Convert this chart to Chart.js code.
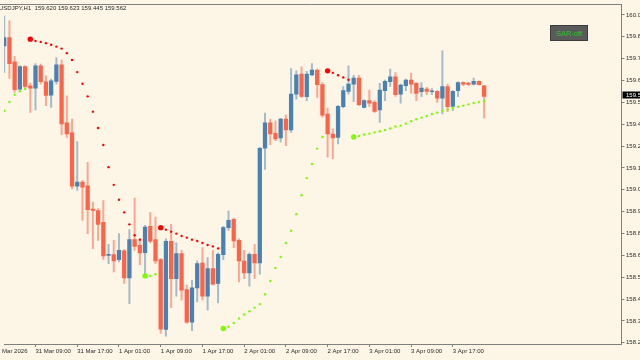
<!DOCTYPE html>
<html>
<head>
<meta charset="utf-8">
<script src="https://cdn.jsdelivr.net/npm/chart.js@4.4.1/dist/chart.umd.min.js"></script>
<style>
html, body { margin: 0; padding: 0; background: #fdf5e6; }
</style>
</head>
<body>
<canvas id="chart" width="640" height="360"></canvas>
<script>
// USDJPY H1, one candle per hour from 31 Mar 03:00
let symbolName = 'USDJPY,H1'

let opens = [159.840,159.886,159.752,159.603,159.727,159.621,159.608,159.731,159.643,159.570,
  159.645,159.736,159.417,159.362,159.070,159.092,159.072,158.944,158.936,158.871,
  158.690,158.694,158.666,158.714,158.566,158.776,158.745,158.705,158.849,158.776,
  158.666,158.283,158.767,158.562,158.699,158.502,158.323,158.511,158.648,158.465,
  158.617,158.535,158.694,158.842,158.887,158.772,158.659,158.593,158.696,158.648,
  159.278,159.417,159.360,159.334,159.438,159.378,159.575,159.685,159.561,159.681,
  159.707,159.627,159.466,159.356,159.338,159.506,159.590,159.630,159.663,159.502,
  159.539,159.530,159.488,159.594,159.643,159.670,159.575,159.621,159.652,159.634,
  159.588,159.603,159.588,159.590,159.553,159.616,159.508,159.594,159.639,159.636,
  159.630,159.645,159.620]

let highs = [160.004,159.977,159.782,159.731,159.731,159.636,159.743,159.740,159.676,159.658,
  159.776,159.762,159.566,159.438,159.314,159.101,159.201,158.982,158.946,158.991,
  158.750,158.772,158.809,158.721,158.831,159.004,158.781,158.854,158.924,158.900,
  158.672,158.781,158.860,158.759,158.717,158.526,158.553,158.659,158.732,158.677,
  158.717,158.703,158.849,158.933,158.894,158.781,158.717,158.703,158.750,159.283,
  159.471,159.438,159.429,159.442,159.462,159.716,159.703,159.725,159.700,159.743,
  159.712,159.639,159.499,159.384,159.512,159.616,159.731,159.679,159.679,159.544,
  159.597,159.539,159.634,159.652,159.712,159.694,159.630,159.658,159.690,159.639,
  159.639,159.612,159.606,159.594,159.813,159.630,159.594,159.643,159.643,159.641,
  159.663,159.648,159.623]

let lows = [159.694,159.661,159.585,159.590,159.603,159.475,159.488,159.630,159.512,159.502,
  159.630,159.353,159.338,159.055,159.046,158.882,158.809,158.727,158.772,158.668,
  158.644,158.599,158.654,158.535,158.425,158.717,158.639,158.581,158.758,158.644,
  158.261,158.246,158.403,158.465,158.444,158.316,158.276,158.434,158.444,158.389,
  158.526,158.429,158.666,158.827,158.732,158.544,158.562,158.520,158.562,158.586,
  159.161,159.298,159.320,159.311,159.292,159.365,159.548,159.557,159.539,159.676,
  159.557,159.448,159.229,159.219,159.302,159.499,159.575,159.533,159.512,159.499,
  159.506,159.475,159.420,159.539,159.617,159.563,159.526,159.594,159.581,159.539,
  159.561,159.572,159.572,159.530,159.466,159.479,159.484,159.561,159.621,159.621,
  159.625,159.625,159.445]

let closes = [159.886,159.743,159.599,159.727,159.617,159.608,159.731,159.643,159.568,159.648,
  159.736,159.411,159.356,159.070,159.092,159.064,158.940,158.936,158.860,158.686,
  158.696,158.659,158.717,158.566,158.776,158.739,158.703,158.845,158.767,158.659,
  158.285,158.767,158.562,158.699,158.498,158.323,158.511,158.644,158.465,158.617,
  158.531,158.696,158.842,158.882,158.769,158.659,158.593,158.696,158.648,159.278,
  159.417,159.356,159.329,159.438,159.378,159.575,159.681,159.563,159.685,159.707,
  159.627,159.460,159.356,159.334,159.508,159.594,159.630,159.663,159.517,159.539,
  159.526,159.480,159.597,159.645,159.670,159.572,159.625,159.652,159.630,159.579,
  159.608,159.590,159.592,159.553,159.616,159.506,159.590,159.639,159.630,159.628,
  159.645,159.627,159.562]

// parabolic SAR, one value per candle
let sar = [159.484,159.532,159.572,159.590,159.603,159.877,159.867,159.862,159.855,159.846,
  159.836,159.825,159.800,159.763,159.696,159.632,159.563,159.479,159.389,159.296,
  159.174,159.077,158.995,158.926,158.860,158.800,158.776,158.577,158.577,158.586,
  158.842,158.831,158.820,158.809,158.796,158.787,158.776,158.769,158.758,158.747,
  158.739,158.728,158.288,158.298,158.319,158.343,158.365,158.383,158.403,158.422,
  158.476,158.549,158.621,158.681,158.758,158.825,158.916,159.020,159.114,159.192,
  159.276,159.340,159.703,159.692,159.679,159.667,159.654,159.340,159.345,159.353,
  159.358,159.365,159.371,159.378,159.386,159.397,159.402,159.413,159.426,159.437,
  159.446,159.455,159.466,159.473,159.484,159.491,159.499,159.506,159.512,159.519,
  159.526,159.532,159.537]

let xTickIndex = [-2, 6, 14, 22, 30, 38, 46, 54, 62, 70, 78, 86]
let xTickLabels = ['31 Mar 2026', '31 Mar 09:00', '31 Mar 17:00', '1 Apr 01:00', '1 Apr 09:00',
  '1 Apr 17:00', '2 Apr 01:00', '2 Apr 09:00', '2 Apr 17:00', '3 Apr 01:00', '3 Apr 09:00', '3 Apr 17:00']
let yTicks = [160.01, 159.89, 159.77, 159.65, 159.53, 159.41, 159.29, 159.17, 159.05,
  158.93, 158.81, 158.69, 158.57, 158.45, 158.33, 158.21]

let bullColor = '#4682b4'
let bearColor = '#ff6347'
let bullWick = 'rgba(70,130,180,0.5)'
let bearWick = 'rgba(255,99,71,0.55)'
let axisColor = '#808080'
let textColor = '#2a2a2a'
let fontFamily = '"Liberation Sans", Arial, sans-serif'

// candle data for the bar datasets
let bodies = []
let wicks = []
let bodyColors = []
let wickColors = []
for (let i = 0; i < opens.length; i++) {
  bodies.push({x: i, y: [opens[i], closes[i]]})
  wicks.push({x: i, y: [lows[i], highs[i]]})
  let up = closes[i] >= opens[i]
  bodyColors.push(up ? bullColor : bearColor)
  wickColors.push(up ? bullWick : bearWick)
}

// SAR dots: red above price, green below, first dot of a new trend is bigger
let sarPoints = []
let sarColors = []
let sarSizes = []
for (let i = 0; i < sar.length; i++) {
  let above = sar[i] > closes[i]
  sarPoints.push({x: i, y: sar[i]})
  sarColors.push(above ? '#ff0000' : '#7cfc00')
  let flipped = i > 0 && ((sar[i - 1] > closes[i - 1]) !== above)
  sarSizes.push(flipped ? 2.7 : 1.2)
}

// MT4 style extras: background, top frame, header, price label, button
let mt4Plugin = {
  id: 'mt4',
  beforeDraw(chart) {
    let ctx = chart.ctx
    ctx.save()
    ctx.fillStyle = '#fdf5e6'
    ctx.fillRect(0, 0, chart.width, chart.height)
    ctx.restore()
  },
  afterDraw(chart) {
    let ctx = chart.ctx
    let area = chart.chartArea
    let last = opens.length - 1
    ctx.save()

    ctx.strokeStyle = axisColor
    ctx.lineWidth = 1
    ctx.beginPath()
    ctx.moveTo(0, Math.round(area.top) + 0.5)
    ctx.lineTo(area.right, Math.round(area.top) + 0.5)
    ctx.stroke()

    ctx.font = '6px ' + fontFamily
    ctx.fillStyle = textColor
    ctx.textBaseline = 'middle'
    ctx.textAlign = 'left'
    let header = symbolName + '  ' + opens[last].toFixed(3) + ' ' + highs[last].toFixed(3) + ' ' +
      lows[last].toFixed(3) + ' ' + closes[last].toFixed(3)
    ctx.fillText(header, -1, 8.5)

    // current price label on the axis
    let py = chart.scales.y.getPixelForValue(closes[last])
    ctx.fillStyle = '#000000'
    ctx.fillRect(area.right + 1, py - 5, 640 - area.right, 7)
    ctx.fillStyle = '#ffffff'
    ctx.fillText(closes[last].toFixed(3), area.right + 4.5, py - 1.5)

    // SAR on/off button
    ctx.fillStyle = '#5a5a5a'
    ctx.fillRect(550, 25.5, 38, 15)
    ctx.strokeStyle = '#3c3c3c'
    ctx.strokeRect(550.5, 25.5, 37, 15)
    ctx.font = '7.5px ' + fontFamily
    ctx.fillStyle = '#22d022'
    ctx.textAlign = 'center'
    ctx.fillText('SAR-off', 569, 33.5)
    ctx.restore()
  }
}

let ctx = document.querySelector('#chart').getContext('2d')

let chart = new Chart(ctx, {
  type: 'bar',
  data: {
    datasets: [
      {
        type: 'scatter',
        data: sarPoints,
        pointBackgroundColor: sarColors,
        pointBorderWidth: 0,
        pointRadius: sarSizes,
        order: 1
      },
      {
        data: bodies,
        backgroundColor: bodyColors,
        barThickness: 3.6,
        minBarLength: 1,
        grouped: false,
        borderWidth: 0,
        order: 2
      },
      {
        data: wicks,
        backgroundColor: wickColors,
        barThickness: 1.3,
        grouped: false,
        borderWidth: 0,
        order: 3
      }
    ]
  },
  options: {
    responsive: false,
    devicePixelRatio: 1,
    animation: false,
    layout: {padding: {top: 3, left: 0, right: 0, bottom: 0}},
    plugins: {legend: {display: false}, tooltip: {enabled: false}},
    scales: {
      x: {
        type: 'linear',
        min: -0.04,
        max: 118.34,
        offset: false,
        grid: {drawOnChartArea: false, tickLength: 3, color: axisColor, offset: false},
        border: {display: true, color: axisColor},
        ticks: {
          autoSkip: false,
          maxRotation: 0,
          align: 'start',
          padding: 1,
          color: textColor,
          font: {family: fontFamily, size: 6},
          callback: (v, i) => xTickLabels[i]
        },
        afterBuildTicks: (scale) => { scale.ticks = xTickIndex.map(v => ({value: v})) },
        afterFit: (scale) => {
          scale.height = 16
          scale.paddingLeft = 0
          scale.paddingRight = 0
        }
      },
      y: {
        type: 'linear',
        position: 'right',
        min: 158.203,
        max: 160.07,
        beginAtZero: false,
        grid: {drawOnChartArea: false, tickLength: 3, color: axisColor},
        border: {display: true, color: axisColor},
        ticks: {
          padding: 1.5,
          color: textColor,
          font: {family: fontFamily, size: 6},
          callback: (v) => v.toFixed(3)
        },
        afterBuildTicks: (scale) => { scale.ticks = yTicks.map(v => ({value: v})) },
        afterFit: (scale) => {
          scale.width = 18.5
          scale.paddingTop = 0
          scale.paddingBottom = 0
        }
      }
    }
  },
  plugins: [mt4Plugin]
})
</script>
</body>
</html>
